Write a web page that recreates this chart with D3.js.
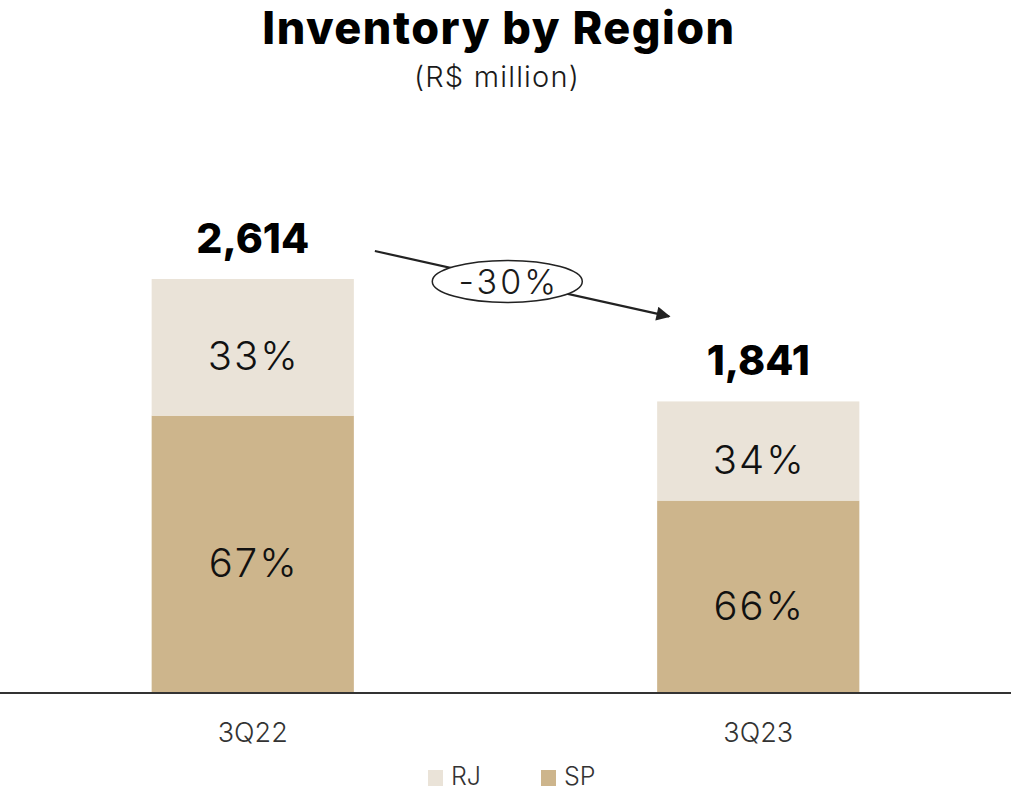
<!DOCTYPE html>
<html>
<head>
<meta charset="utf-8">
<script src="https://cdn.jsdelivr.net/npm/d3@7"></script>
<style>
  html, body { margin: 0; padding: 0; background: #fff; }
  svg { display: block; font-family: Inter, "Noto Sans", sans-serif; }
</style>
</head>
<body>
<svg id="chart" width="1011" height="791"></svg>
<script>
// Inventory by region (R$ million)
const categories = ["3Q22", "3Q23"];
const totals = [2614, 1841];
const rjShare = [33, 34];
const spShare = [67, 66];
const seriesNames = ["RJ", "SP"];
const changeLabel = "-30%";

const colors = { RJ: "#EAE3D8", SP: "#CDB58C" };

const svg = d3.select("#chart");

const x = d3.scaleBand()
  .domain(categories)
  .range([0, 1011])
  .paddingInner(0.6)
  .paddingOuter(0.3);

const y = d3.scaleLinear()
  .domain([0, 2614])
  .range([693, 279]);

// stacked rows: SP at the bottom, RJ on top
const rows = categories.map((c, i) => ({
  cat: c,
  total: totals[i],
  SP: totals[i] * spShare[i] / 100,
  RJ: totals[i] * rjShare[i] / 100,
  spPct: spShare[i],
  rjPct: rjShare[i]
}));
const stacked = d3.stack().keys(["SP", "RJ"])(rows);

const g = svg.append("g");

stacked.forEach(layer => {
  g.selectAll(null)
    .data(layer)
    .enter()
    .append("rect")
    .attr("x", d => x(d.data.cat))
    .attr("width", x.bandwidth())
    .attr("y", d => y(d[1]))
    .attr("height", d => y(d[0]) - y(d[1]))
    .attr("fill", colors[layer.key]);

  g.selectAll(null)
    .data(layer)
    .enter()
    .append("text")
    .attr("x", d => x(d.data.cat) + x.bandwidth() / 2 + 1)
    .attr("y", d => (y(d[0]) + y(d[1])) / 2)
    .attr("dy", "0.57em")
    .attr("text-anchor", "middle")
    .attr("font-size", 40)
    .attr("font-weight", 300)
    .attr("letter-spacing", 2)
    .attr("fill", "#111")
    .text(d => (layer.key === "SP" ? d.data.spPct : d.data.rjPct) + "%");
});

// totals above the bars
g.selectAll(null)
  .data(rows)
  .enter()
  .append("text")
  .attr("x", d => x(d.cat) + x.bandwidth() / 2)
  .attr("y", d => y(d.total) - 26)
  .attr("text-anchor", "middle")
  .attr("font-size", 41)
  .attr("font-weight", 800)
  .attr("fill", "#000")
  .text(d => d3.format(",")(d.total));

// baseline axis
const axis = d3.axisBottom(x).tickSize(0).tickPadding(30);
const ax = svg.append("g")
  .attr("transform", "translate(0,693)")
  .call(axis);
ax.select(".domain").attr("stroke", "#333").attr("stroke-width", 2).attr("d", "M0,0H1011");
ax.selectAll("text")
  .attr("font-size", 27)
  .attr("font-family", "Inter, sans-serif")
  .attr("font-weight", 300)
  .attr("fill", "#333");

// change arrow with ellipse label
const defs = svg.append("defs");
defs.append("marker")
  .attr("id", "arrowHead")
  .attr("viewBox", "0 0 10 10")
  .attr("refX", 9).attr("refY", 5)
  .attr("markerUnits", "userSpaceOnUse")
  .attr("markerWidth", 18).attr("markerHeight", 14)
  .attr("orient", "auto")
  .append("path")
  .attr("d", "M0,0L10,5L0,10Z")
  .attr("fill", "#222");

const ax0 = x(categories[0]) + x.bandwidth() + 21;
const ax1 = x(categories[1]) + 12;
const ay0 = y(totals[0]) - 28;
const ay1 = y(totals[1]) - 85;
svg.append("line")
  .attr("x1", ax0).attr("y1", ay0)
  .attr("x2", ax1).attr("y2", ay1)
  .attr("stroke", "#222").attr("stroke-width", 2.2)
  .attr("marker-end", "url(#arrowHead)");

const t = 0.45;
const ex = ax0 + (ax1 - ax0) * t, ey = ay0 + (ay1 - ay0) * t + 1;
svg.append("ellipse")
  .attr("cx", ex).attr("cy", ey)
  .attr("rx", 75).attr("ry", 21)
  .attr("fill", "#fff")
  .attr("stroke", "#222").attr("stroke-width", 1.5);
svg.append("text")
  .attr("x", ex + 1.5).attr("y", ey)
  .attr("dy", "0.37em")
  .attr("text-anchor", "middle")
  .attr("font-size", 34)
  .attr("font-weight", 300)
  .attr("letter-spacing", 3)
  .attr("fill", "#1a1a1a")
  .text(changeLabel);

// title
svg.append("text")
  .attr("x", 499).attr("y", 44)
  .attr("text-anchor", "middle")
  .attr("font-size", 45)
  .attr("font-weight", 800)
  .attr("letter-spacing", 1.5)
  .attr("fill", "#000")
  .text("Inventory by Region");
svg.append("text")
  .attr("x", 497).attr("y", 87)
  .attr("text-anchor", "middle")
  .attr("font-size", 29)
  .attr("font-weight", 300)
  .attr("letter-spacing", 1.2)
  .attr("fill", "#1a1a1a")
  .text("(R$ million)");

// legend
const legendX = [428, 541];
const lg = svg.append("g");
seriesNames.forEach((s, i) => {
  lg.append("rect")
    .attr("x", legendX[i]).attr("y", 770)
    .attr("width", 15).attr("height", 16)
    .attr("fill", colors[s]);
  lg.append("text")
    .attr("x", legendX[i] + 23).attr("y", 785)
    .attr("font-size", 25)
    .attr("font-weight", 300)
    .attr("fill", "#333")
    .text(s);
});
</script>
</body>
</html>
